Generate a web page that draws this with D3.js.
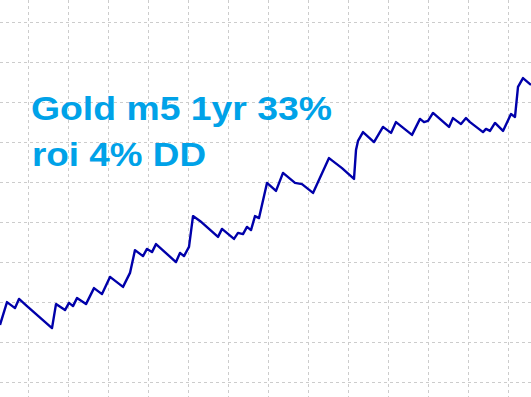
<!DOCTYPE html>
<html>
<head>
<meta charset="utf-8">
<script src="https://d3js.org/d3.v7.min.js"></script>
<style>
  html, body { margin: 0; padding: 0; background: #fff; }
  svg { display: block; }
</style>
</head>
<body>
<svg></svg>
<script>
// equity curve, trade index -> balance
var trades = [0, 3.5, 7.5, 9.5, 13.5, 26, 28, 32.5, 34.5, 36.5, 38.5, 43, 47, 51, 55, 61.5, 65, 67.5, 71.5, 73.5, 76, 78,
  88, 90, 92, 94.5, 96.5, 100, 109, 111, 117, 119, 121.5, 123.5, 125.5, 127.5, 129.5, 133.5, 138, 141.5, 147.5, 151, 156.5,
  164.5, 171, 177, 178, 179, 181.5, 187, 191.5, 195.5, 198, 206, 210, 212, 214, 216.5, 224.5, 226.5, 230.5, 233, 235,
  241.5, 243, 245, 247.5, 251.5, 255.5, 257.5, 259, 261.5, 265, 265.5];
var balance = [9720, 10005, 9930, 10045, 9955, 9680, 9980, 9905, 9995, 9955, 10055, 9980, 10180, 10105, 10320, 10195, 10370,
  10655, 10580, 10670, 10630, 10730, 10505, 10620, 10580, 10695, 11080, 11020, 10820, 10920, 10795, 10870, 10855, 10945,
  10905, 11080, 11055, 11495, 11395, 11620, 11495, 11480, 11370, 11805, 11680, 11545, 11905, 12020, 12130, 12005, 12195,
  12120, 12255, 12095, 12295, 12255, 12270, 12370, 12195, 12305, 12230, 12305, 12255, 12130, 12170, 12145, 12245, 12145,
  12355, 12320, 12695, 12805, 12730, 12720];
var xTicks = d3.range(14, 266, 20);
var yTicks = d3.range(9000, 13501, 500);
var titleLines = ["Gold m5 1yr 33%", "roi 4% DD"];

var width = 531, height = 397;

var svg = d3.select("svg")
    .attr("width", width)
    .attr("height", height);

// setup scales
var xScale = d3.scaleLinear().domain([0, 265.5]).range([0, width]),
    yScale = d3.scaleLinear().domain([9000, 13500]).range([382.5, 22.5]);

// dashed grid
svg.append("g")
    .attr("class", "grid")
  .selectAll("line.v")
    .data(xTicks)
  .enter().append("line")
    .attr("x1", function(d) { return Math.floor(xScale(d)) + 0.5; })
    .attr("x2", function(d) { return Math.floor(xScale(d)) + 0.5; })
    .attr("y1", 0)
    .attr("y2", height)
    .style("stroke", "#cccccc")
    .style("stroke-dasharray", "3,3");

svg.select("g.grid")
  .selectAll("line.h")
    .data(yTicks)
  .enter().append("line")
    .attr("x1", 0)
    .attr("x2", width)
    .attr("y1", function(d) { return yScale(d); })
    .attr("y2", function(d) { return yScale(d); })
    .style("stroke", "#cccccc")
    .style("stroke-dasharray", "3,3");

// equity line
var data = trades.map(function(t, i) { return {t: t, b: balance[i]}; });

var line = d3.line()
    .x(function(d) { return xScale(d.t); })
    .y(function(d) { return yScale(d.b); });

svg.append("path")
    .datum(data)
    .attr("d", line)
    .style("fill", "none")
    .style("stroke", "#0000aa")
    .style("stroke-width", 2.4)
    .style("stroke-linejoin", "round");

// title overlay
var title = svg.append("g")
    .style("font-family", "'Liberation Sans', Arial, sans-serif")
    .style("font-weight", "bold")
    .style("font-size", "33px")
    .style("fill", "#00a2e8");

title.append("text")
    .attr("x", 31)
    .attr("y", 120)
    .attr("textLength", 301)
    .attr("lengthAdjust", "spacingAndGlyphs")
    .text(titleLines[0]);

title.append("text")
    .attr("x", 32)
    .attr("y", 166)
    .attr("textLength", 174)
    .attr("lengthAdjust", "spacingAndGlyphs")
    .text(titleLines[1]);
</script>
</body>
</html>
